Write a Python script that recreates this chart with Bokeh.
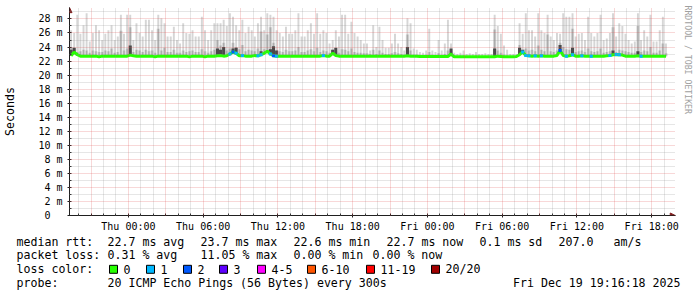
from bokeh.plotting import figure
from bokeh.models import Range1d, FixedTicker, LinearAxis, Arrow, NormalHead, ColumnDataSource
from bokeh.embed import file_html
from bokeh.resources import INLINE
from bokeh.core.properties import value

# ---------------- data ----------------
START_H = -4.73        # chart start (hours relative to Thu 00:00) = Wed 19:16
SPAN_H = 48.0          # hours of data
BIN_H = 0.25           # 15-minute bins

median = [
    22.75, 23.25, 22.9, 22.7, 22.7, 22.7, 22.7, 22.7, 22.7, 22.6,
    22.7, 22.7, 22.7, 22.7, 22.7, 22.7, 22.7, 22.7, 22.7, 22.85,
    22.75, 22.7, 22.7, 22.7, 22.7, 22.7, 22.7, 22.6, 22.7, 22.7,
    22.7, 22.7, 22.7, 22.7, 22.7, 22.7, 22.7, 22.7, 22.6, 22.7,
    22.7, 22.7, 22.7, 22.6, 22.7, 22.7, 22.7, 22.75,
    22.8, 22.7, 22.75, 23.0, 23.3, 23.1, 22.75, 22.8, 22.7, 22.7,
    22.7, 22.8, 22.75, 22.9, 23.1, 23.4, 23.0, 22.75, 22.7, 22.7,
    22.7, 22.7, 22.7, 22.7, 22.7, 22.7, 22.7, 22.7, 22.7, 22.7,
    22.7, 22.7, 22.7, 22.8, 22.7, 22.7, 23.1, 22.8, 22.7, 22.7,
    22.7, 22.7, 22.7, 22.7, 22.7, 22.7, 22.7, 22.7,
    22.7, 22.7, 22.7, 22.7, 22.7, 22.7, 22.7, 22.7, 22.7, 22.7,
    22.7, 22.7, 22.75, 22.7, 22.7, 22.7, 22.65, 22.65, 22.65, 22.65,
    22.65, 22.65, 22.65, 22.65, 22.65, 22.65, 23.0, 22.6, 22.6, 22.6,
    22.6, 22.6, 22.6, 22.6, 22.6, 22.6, 22.6, 22.6, 22.6, 22.6,
    22.6, 22.7, 22.65, 22.6, 22.6, 22.6, 22.6, 22.65,
    22.9, 23.3, 22.8, 22.75, 22.7, 22.75, 22.7, 22.75, 22.7, 22.7,
    22.7, 22.7, 22.8, 23.5, 22.8, 22.7, 22.75, 22.9, 22.7, 22.7,
    22.75, 22.7, 22.7, 22.7, 22.7, 22.7, 22.7, 22.7, 22.75, 22.8,
    22.9, 22.95, 22.9, 22.85, 22.7, 22.7, 22.7, 22.7, 22.75, 22.7,
    22.7, 22.7, 22.7, 22.7, 22.7, 22.7, 22.7, 22.7,
]

smoke_max = [
    26.4, 26.0, 28.6, 25.9, 27.1, 28.8, 24.8, 26.0, 27.1, 26.4,
    25.0, 25.9, 26.4, 27.1, 25.0, 25.5, 28.6, 25.9, 28.6, 28.6,
    25.0, 27.4, 26.0, 25.5, 27.9, 27.9, 26.4, 25.0, 28.6, 28.1,
    27.4, 25.5, 25.5, 26.9, 25.0, 24.5, 27.4, 26.0, 25.9, 26.4,
    25.5, 25.5, 28.3, 26.4, 25.0, 26.4, 27.4, 27.4,
    27.4, 27.9, 27.0, 28.8, 28.3, 27.1, 26.4, 27.9, 26.0, 26.9,
    26.4, 25.5, 27.4, 28.3, 26.4, 28.8, 28.6, 28.3, 26.4, 26.0,
    25.5, 26.9, 25.9, 25.9, 26.4, 28.8, 25.5, 25.5, 26.4, 27.4,
    25.9, 28.8, 25.9, 26.4, 26.0, 24.5, 25.0, 26.4, 25.5, 28.6,
    28.6, 25.9, 27.6, 26.0, 25.5, 25.0, 24.5, 24.5,
    23.5, 27.1, 24.0, 26.9, 25.0, 23.9, 23.9, 24.5, 25.9, 24.5,
    24.0, 23.5, 28.1, 27.4, 23.8, 23.6, 23.3, 23.2, 23.5, 26.6,
    23.5, 23.3, 25.0, 23.5, 24.5, 27.9, 24.5, 23.2, 23.0, 23.2,
    23.5, 23.0, 23.1, 23.0, 23.3, 23.0, 23.0, 23.1, 23.0, 23.0,
    28.6, 27.0, 25.9, 24.2, 23.6, 23.0, 23.0, 23.0,
    27.4, 25.9, 28.8, 26.4, 26.4, 25.5, 28.8, 26.4, 26.0, 28.6,
    25.5, 25.0, 26.0, 25.9, 28.8, 28.3, 28.3, 28.8, 25.5, 25.9,
    26.0, 25.0, 28.3, 26.0, 25.5, 26.0, 28.6, 25.0, 25.2, 26.0,
    28.8, 25.5, 27.4, 27.0, 25.9, 25.0, 24.5, 24.8, 28.8, 25.0,
    26.4, 25.5, 28.6, 24.8, 24.8, 26.4, 28.3, 24.5,
]

smoke_mid = [
    24.0, 23.9, 23.3, 23.4, 23.6, 23.5, 23.2, 23.5, 23.4, 23.3,
    23.3, 23.5, 23.4, 23.8, 23.2, 23.3, 26.3, 23.5, 23.8, 26.8,
    23.3, 23.6, 23.5, 23.3, 23.6, 23.4, 23.5, 23.2, 26.6, 23.5,
    23.9, 23.3, 23.3, 23.6, 23.2, 23.2, 23.5, 23.3, 23.4, 23.5,
    23.3, 23.3, 23.7, 23.4, 23.2, 23.4, 23.6, 25.0,
    24.2, 24.6, 23.5, 23.8, 24.6, 24.0, 23.7, 24.3, 23.4, 23.6,
    23.5, 23.4, 23.8, 26.2, 23.7, 25.8, 26.8, 24.6, 23.5, 23.4,
    23.3, 23.6, 23.4, 23.4, 23.5, 24.0, 23.3, 23.3, 23.5, 23.7,
    23.4, 23.9, 23.3, 23.5, 23.4, 23.2, 23.6, 23.4, 23.2, 23.7,
    23.6, 23.4, 23.8, 23.3, 23.2, 23.2, 23.1, 23.1,
    23.0, 23.6, 23.0, 23.5, 23.2, 23.0, 23.0, 23.1, 23.3, 23.1,
    23.0, 22.9, 25.8, 23.5, 22.9, 22.9, 22.8, 22.8, 22.9, 23.3,
    22.9, 22.8, 23.1, 22.9, 23.0, 23.5, 23.5, 22.8, 22.7, 22.8,
    22.8, 22.7, 22.7, 22.7, 22.8, 22.7, 22.7, 22.7, 22.7, 22.7,
    26.5, 23.5, 23.2, 22.9, 22.8, 22.7, 22.7, 22.7,
    24.3, 23.5, 23.8, 23.5, 23.6, 23.4, 24.2, 23.6, 23.4, 25.8,
    23.4, 23.3, 23.5, 24.6, 24.0, 23.7, 23.6, 26.6, 23.3, 23.4,
    23.5, 23.3, 23.8, 23.4, 23.3, 23.4, 23.8, 23.2, 23.3, 23.4,
    26.8, 23.3, 23.6, 23.5, 23.4, 23.3, 23.2, 23.2, 27.0, 23.3,
    23.5, 23.4, 24.0, 23.2, 23.2, 23.5, 24.5, 23.1,
]

dark_bins = [0, 1, 19, 47, 48, 49, 52, 53, 61, 64, 65, 66, 84, 85, 108, 122, 136, 144, 145, 157, 161, 174, 182]
dark_top = [23.6, 23.9, 24.2, 23.8, 23.6, 24.0, 23.8, 23.9, 23.4, 23.7, 24.1, 23.5, 23.6, 23.9, 24.0, 23.8, 23.8, 23.9, 23.6, 24.3, 23.9, 23.5, 23.4]

loss_bins = [51, 52, 53, 55, 60, 61, 64, 65, 66, 81, 145, 146, 147, 149, 151, 157, 159, 161, 164, 167, 173, 175, 176, 183]
loss_level = [1, 2, 1, 1, 1, 1, 1, 2, 1, 1, 1, 1, 1, 1, 1, 2, 1, 1, 1, 1, 1, 1, 1, 1]

loss_names = ["0", "1", "2", "3", "4-5", "6-10", "11-19", "20/20"]
loss_colors = ["#26ff00", "#00b8ff", "#0059ff", "#5e00ff", "#ff00ff", "#ff5500", "#ff0000", "#a10000"]

x_tick_hours = [0, 6, 12, 18, 24, 30, 36, 42]
x_tick_labels = ["Thu 00:00", "Thu 06:00", "Thu 12:00", "Thu 18:00",
                 "Fri 00:00", "Fri 06:00", "Fri 12:00", "Fri 18:00"]
y_ticks = [0, 2, 4, 6, 8, 10, 12, 14, 16, 18, 20, 22, 24, 26, 28]
y_tick_labels = ["0\u00a0\u00a0", "2 m", "4 m", "6 m", "8 m", "10 m", "12 m", "14 m",
                 "16 m", "18 m", "20 m", "22 m", "24 m", "26 m", "28 m"]

legend_rtt = [("median rtt:", 16), ("22.7 ms avg", 107), ("23.7 ms max", 200), ("22.6 ms min", 293),
              ("22.7 ms now", 386), ("0.1 ms sd", 479), ("207.0", 558), ("am/s", 613)]
legend_loss = [("packet loss:", 16), ("0.31 % avg", 107), ("11.05 % max", 200),
               ("0.00 % min", 293), ("0.00 % now", 372)]
probe_text = "20 ICMP Echo Pings (56 Bytes) every 300s"
date_text = "Fri Dec 19 19:16:18 2025"
y_title = "Seconds"
watermark = "RRDTOOL / TOBI OETIKER"

# ---------------- layout / styles ----------------
MONO = "DejaVu Sans Mono"
FRAME_L, FRAME_R, FRAME_T, FRAME_B = 67, 675, 7, 215
PX_PER_H = 12.5
PX_PER_MS = 7.02
X_END = START_H + (FRAME_R - FRAME_L) / PX_PER_H
Y_MAX = (FRAME_B - FRAME_T) / PX_PER_MS

p = figure(width=697, height=235, x_range=Range1d(START_H, X_END), y_range=Range1d(0, Y_MAX),
           output_backend="svg", toolbar_location=None,
           min_border_left=FRAME_L, min_border_right=697 - FRAME_R,
           min_border_top=FRAME_T, min_border_bottom=235 - FRAME_B)
p.background_fill_color = "white"
p.border_fill_color = "white"
p.outline_line_color = None

centers = [START_H + BIN_H * (i + 0.5) for i in range(len(median))]
src = ColumnDataSource(dict(x=centers, med=median, top=smoke_max, mid=smoke_mid))
p.vbar(x="x", width=BIN_H * 0.62, bottom="med", top="top", source=src,
       fill_color="#d6d6d6", line_color=None)
p.vbar(x="x", width=BIN_H * 1.02, bottom="med", top="mid", source=src,
       fill_color="#dadada", line_color=None)
p.vbar(x="x", width=BIN_H * 0.5, bottom="med", top="mid", source=src,
       fill_color="#acacac", line_color=None)
p.vbar(x=[centers[i] for i in dark_bins], width=BIN_H,
       bottom=[median[i] for i in dark_bins], top=dark_top,
       fill_color="#4a4a4a", line_color=None)
p.line(x=centers, y=median, line_color=loss_colors[0], line_width=3)
p.segment(x0=[centers[i] - BIN_H / 2 for i in loss_bins], x1=[centers[i] + BIN_H / 2 for i in loss_bins],
          y0=[median[i] for i in loss_bins], y1=[median[i] for i in loss_bins],
          line_color=[loss_colors[l] for l in loss_level], line_width=3)

# axes
xa = p.xaxis[0]
xa.ticker = FixedTicker(ticks=x_tick_hours, minor_ticks=[h for h in range(-4, 44) if h % 6])
xa.major_label_overrides = {h: t for h, t in zip(x_tick_hours, x_tick_labels)}
ya = p.yaxis[0]
ya.ticker = FixedTicker(ticks=y_ticks, minor_ticks=[v for v in range(1, 30, 2)])
ya.major_label_overrides = {v: t for v, t in zip(y_ticks, y_tick_labels)}
for ax in (xa, ya):
    ax.major_label_text_font = MONO
    ax.major_label_text_font_size = "10px"
    ax.major_label_text_color = "black"
    ax.axis_line_color = "#1f1f1f"
    ax.major_tick_line_color = "#1f1f1f"
    ax.minor_tick_line_color = "#1f1f1f"
    ax.major_tick_in = 2
    ax.major_tick_out = 2
    ax.minor_tick_in = 2
    ax.minor_tick_out = 0
xa.major_label_standoff = 3
ya.major_label_standoff = 5
ya.axis_label = y_title
ya.axis_label_text_font = MONO
ya.axis_label_text_font_size = "11.6px"
ya.axis_label_text_font_style = "normal"
ya.axis_label_text_color = "black"
ya.axis_label_standoff = 18

# watermark on the right side (axis label of an empty right axis)
wm = LinearAxis(ticker=FixedTicker(ticks=[]), axis_line_color=None,
                major_tick_line_color=None, minor_tick_line_color=None,
                major_tick_out=0, minor_tick_out=0, major_label_standoff=0,
                major_label_text_font_size="0px",
                axis_label=watermark + "\u00a0" * 21, axis_label_text_font=MONO,
                axis_label_text_font_size="8.2px", axis_label_text_font_style="normal",
                axis_label_text_color="#a0a0a0", axis_label_standoff=7)
p.add_layout(wm, "right")

# grids
p.xgrid.ticker = FixedTicker(ticks=list(range(-3, 44, 3)), minor_ticks=[h for h in range(-4, 44) if h % 3])
p.ygrid.ticker = FixedTicker(ticks=[v for v in range(2, 29, 2)], minor_ticks=[v for v in range(1, 30, 2)])
for g in (p.xgrid[0], p.ygrid[0]):
    g.grid_line_color = "#de5050"
    g.grid_line_alpha = 0.45
    g.grid_line_dash = "1 1"
    g.minor_grid_line_color = "#8f8f8f"
    g.minor_grid_line_alpha = 0.45
    g.minor_grid_line_dash = "1 1"
    g.level = "overlay"

# axis arrows (inside the frame edges)
head = dict(size=5, fill_color="#801f1f", line_color="#801f1f")
p.add_layout(Arrow(end=NormalHead(**head), x_start=START_H + SPAN_H, y_start=0,
                   x_end=X_END - 0.02, y_end=0, line_color="#1f1f1f", line_width=1))
p.add_layout(Arrow(end=NormalHead(**head), x_start=START_H, y_start=Y_MAX - 0.5,
                   x_end=START_H, y_end=Y_MAX - 0.02, line_color="#1f1f1f", line_width=1))

# ---------------- legend panel (pixel coordinates) ----------------
lg = figure(width=697, height=62, x_range=Range1d(0, 697), y_range=Range1d(297, 235),
            output_backend="svg", toolbar_location=None, x_axis_type=None, y_axis_type=None,
            min_border=0, min_border_left=0, min_border_right=0, min_border_top=0, min_border_bottom=0)
lg.background_fill_color = "white"
lg.border_fill_color = "white"
lg.outline_line_color = None
lg.grid.visible = False

rows_y = [241.0, 254.6, 268.8, 282.3]
box_x = [109, 146, 183, 219, 257, 307, 366, 431]
tx, ty, tt = [], [], []
for t, x in legend_rtt:
    tx.append(x); ty.append(rows_y[0]); tt.append(t)
for t, x in legend_loss:
    tx.append(x); ty.append(rows_y[1]); tt.append(t)
tx.append(16); ty.append(rows_y[2]); tt.append("loss color:")
for name, x in zip(loss_names, box_x):
    tx.append(x + 14); ty.append(rows_y[2]); tt.append(name)
tx += [16, 107]; ty += [rows_y[3], rows_y[3]]; tt += ["probe:", probe_text]
lg.text(x=tx, y=ty, text=tt, text_font=value(MONO), text_font_size=value("11.6px"),
        text_baseline="middle", text_align="left", text_color="black")
lg.text(x=[680], y=[rows_y[3]], text=[date_text], text_font=value(MONO),
        text_font_size=value("11.6px"), text_baseline="middle", text_align="right", text_color="black")
lg.rect(x=[x + 4 for x in box_x], y=[rows_y[2]] * len(box_x), width=8, height=8,
        fill_color=loss_colors, line_color="black", line_width=1)

open("out.html", "w").write(file_html([p, lg], INLINE))
